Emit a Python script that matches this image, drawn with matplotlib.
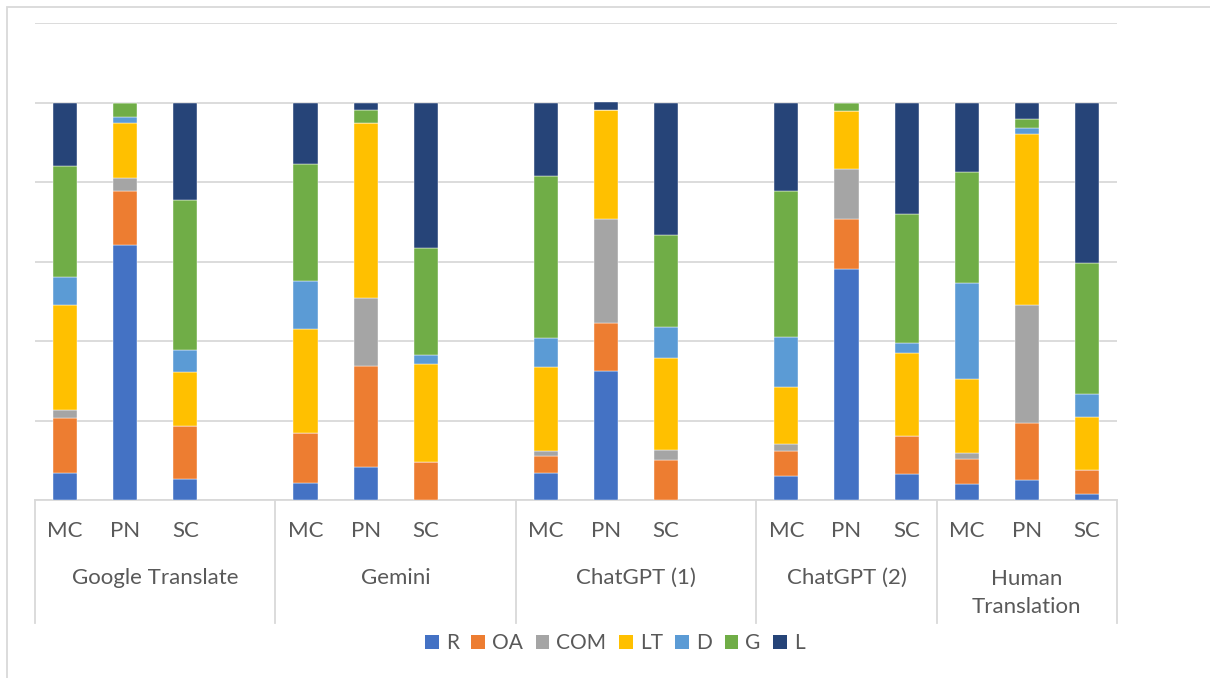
import numpy as np
import matplotlib
matplotlib.use("Agg")
import matplotlib.pyplot as plt
from matplotlib.patches import Patch, Rectangle
from matplotlib.transforms import blended_transform_factory

plt.rcParams['font.family'] = ['Lato', 'DejaVu Sans']

# data (percent of each bar), bars in order: GT, Gemini, ChatGPT(1), ChatGPT(2), Human; each MC, PN, SC
groups = ["Google Translate", "Gemini", "ChatGPT (1)", "ChatGPT (2)", "Human\nTranslation"]
group_slots = [4, 4, 4, 3, 3]   # first three groups carry an empty category slot
cats = ["MC", "PN", "SC"]
series = ["R", "OA", "COM", "LT", "D", "G", "L"]
colors = ["#4472C4", "#ED7D31", "#A5A5A5", "#FFC000", "#5B9BD5", "#70AD47", "#264478"]

R   = [6.9, 64.2, 5.2, 4.4, 8.2, 0, 6.9, 32.5, 0, 6.1, 58.2, 6.6, 3.9, 5.1, 1.6]
OA  = [13.8, 13.6, 13.5, 12.4, 25.6, 9.6, 4.2, 12.1, 10.1, 6.3, 12.6, 9.6, 6.5, 14.2, 6.0]
COM = [1.9, 3.3, 0, 0, 16.9, 0, 1.3, 26.0, 2.5, 1.8, 12.4, 0, 1.3, 29.8, 0]
LT  = [26.4, 13.7, 13.6, 26.2, 44.1, 24.5, 21.1, 27.6, 23.2, 14.3, 14.6, 20.8, 18.8, 43.0, 13.4]
D   = [7.0, 1.6, 5.5, 12.2, 0, 2.4, 7.2, 0, 7.7, 12.6, 0, 2.4, 24.0, 1.4, 5.7]
G   = [28.0, 3.6, 37.6, 29.4, 3.4, 26.8, 40.9, 0, 23.1, 36.6, 2.2, 32.5, 28.1, 2.4, 32.9]
L   = [16.0, 0, 24.6, 15.4, 1.8, 36.7, 18.4, 1.8, 33.4, 22.3, 0, 28.1, 17.4, 4.1, 40.4]

vals = np.array([R, OA, COM, LT, D, G, L], dtype=float)
vals = vals / vals.sum(axis=0)   # 100% stacked

# x positions of bars
xpos = []
bounds = [-0.5]
start = 0
for n in group_slots:
    for k in range(3):
        xpos.append(start + k)
    start += n
    bounds.append(start - 0.5)
xpos = np.array(xpos)

txt = "#595959"
grid = "#D9D9D9"

fig = plt.figure(figsize=(12.1, 6.78), dpi=100)
ax = fig.add_axes([35/1210, 178/678, 1082/1210, 477/678])

bottom = np.zeros(len(xpos))
for i, s in enumerate(series):
    ax.bar(xpos, vals[i], 0.4, bottom=bottom, color=colors[i], edgecolor="white", linewidth=0.3, zorder=3)
    bottom += vals[i]

ax.set_xlim(-0.5, sum(group_slots) - 0.5)
ax.set_ylim(0, 1.2)
ax.set_yticks(np.arange(0, 1.21, 0.2))
ax.yaxis.grid(True, color=grid, linewidth=1.3, zorder=0)
ax.tick_params(left=False, labelleft=False, bottom=False, labelbottom=False)
for sp in ["left", "right", "top"]:
    ax.spines[sp].set_visible(False)
ax.spines["bottom"].set_color(grid)
ax.spines["bottom"].set_linewidth(1.3)

tr = blended_transform_factory(ax.transData, ax.transAxes)
for b in bounds:
    ax.plot([b, b], [0, -0.258], color=grid, linewidth=1.3, transform=tr, clip_on=False)

fs = 16
for j, x in enumerate(xpos):
    ax.text(x, -0.065, cats[j % 3], transform=tr, ha="center", va="center", fontsize=fs, color=txt)

for g, name in enumerate(groups):
    cx = (bounds[g] + bounds[g + 1]) / 2
    if "\n" in name:
        ax.text(cx, -0.196, name, transform=tr, ha="center", va="center", fontsize=fs, color=txt, linespacing=1.5)
    else:
        ax.text(cx, -0.1635, name, transform=tr, ha="center", va="center", fontsize=fs, color=txt)

handles = [Patch(facecolor=c, edgecolor="none") for c in colors]
leg = ax.legend(handles, series, loc="center", bbox_to_anchor=(0.536, -0.30), ncol=7, frameon=False,
                fontsize=15, handlelength=0.65, handleheight=0.65, handletextpad=0.35, columnspacing=0.6)
for t in leg.get_texts():
    t.set_color(txt)

# chart frame (cut off at right and bottom)
fig.add_artist(Rectangle((7/1210, -0.1), 1.2, 1.1 - 7/678, transform=fig.transFigure,
                         fill=False, edgecolor=grid, linewidth=1.3))

fig.savefig("out.png", dpi=100)
